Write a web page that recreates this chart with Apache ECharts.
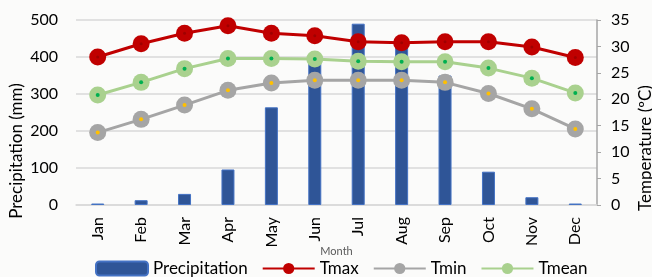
<!DOCTYPE html>
<html>
<head>
<meta charset="utf-8">
<script src="https://cdn.jsdelivr.net/npm/echarts@6/dist/echarts.min.js"></script>
<style>
  html, body { margin: 0; padding: 0; background: #fbfbfa; }
  #chart { width: 652px; height: 277px; }
</style>
</head>
<body>
<div id="chart"></div>
<script>
// months on the x axis
var months = ['Jan', 'Feb', 'Mar', 'Apr', 'May', 'Jun', 'Jul', 'Aug', 'Sep', 'Oct', 'Nov', 'Dec'];
// precipitation (mm), left axis
var precipitation = [4, 13, 30, 96, 264, 390, 490, 430, 350, 90, 21, 4];
// temperatures (ºC), right axis
var tmax = [28.0, 30.5, 32.5, 33.9, 32.5, 32.0, 30.9, 30.7, 30.9, 30.9, 29.9, 27.9];
var tmin = [13.7, 16.2, 18.9, 21.7, 23.1, 23.6, 23.6, 23.6, 23.2, 21.1, 18.2, 14.4];
var tmean = [20.8, 23.2, 25.8, 27.7, 27.7, 27.6, 27.2, 27.1, 27.1, 25.9, 24.0, 21.2];

var font = 'Lato, "Open Sans", sans-serif';

// small dot drawn in the middle of each marker
function centerDots(data, color, size) {
  return {
    type: 'line',
    yAxisIndex: 1,
    data: data,
    symbol: 'circle',
    symbolSize: size,
    showSymbol: true,
    lineStyle: { width: 0, opacity: 0 },
    itemStyle: { color: color },
    silent: true,
    z: 5
  };
}

function tempLine(name, data, color) {
  return {
    name: name,
    type: 'line',
    yAxisIndex: 1,
    data: data,
    symbol: 'circle',
    symbolSize: 17,
    lineStyle: { color: color, width: 3 },
    itemStyle: { color: color },
    z: 3
  };
}

// axis titles sit lower than the middle of the axis, as in the original
function axisTitle(text, x, y) {
  return {
    type: 'text',
    x: x, y: y,
    rotation: Math.PI / 2,
    style: {
      text: text,
      fill: '#000',
      font: '17px ' + font,
      align: 'center',
      verticalAlign: 'middle'
    }
  };
}

var chart = echarts.init(document.getElementById('chart'));
chart.setOption({
  backgroundColor: '#fbfbfa',
  animation: false,
  textStyle: { fontFamily: font },
  grid: { left: 76, right: 55, top: 20, bottom: 72, outerBoundsMode: 'none', containLabel: false },
  graphic: [
    axisTitle('Precipitation (mm)', 17, 151),
    axisTitle('Temperature (ºC)', 646, 148)
  ],
  legend: {
    data: ['Precipitation', 'Tmax', 'Tmin', 'Tmean'],
    bottom: -5,
    left: 90,
    itemWidth: 52,
    itemHeight: 14,
    itemGap: 14,
    textStyle: { fontSize: 17, color: '#000', fontFamily: font }
  },
  xAxis: {
    type: 'category',
    data: months,
    name: 'Month',
    nameLocation: 'middle',
    nameGap: 41,
    nameMoveOverlap: false,
    nameTextStyle: { fontSize: 11, color: '#595959', fontFamily: font },
    axisLine: { lineStyle: { color: '#d9d9d9', width: 1.5 } },
    axisTick: { show: false },
    axisLabel: { rotate: 90, fontSize: 16, color: '#000', margin: 12, fontFamily: font }
  },
  yAxis: [{
    type: 'value',
    min: 0, max: 500, interval: 100,
    axisLine: { show: false },
    axisTick: { show: false },
    axisLabel: { fontSize: 16, color: '#000', margin: 18, fontFamily: font },
    splitLine: { lineStyle: { color: '#d9d9d9', width: 1.5 } }
  }, {
    type: 'value',
    min: 0, max: 35, interval: 5,
    position: 'right',
    axisLine: { show: true, lineStyle: { color: '#a6a6a6', width: 1.5 } },
    axisTick: { show: true, inside: false, length: 4, lineStyle: { color: '#a6a6a6' } },
    axisLabel: { fontSize: 16, color: '#000', margin: 14, fontFamily: font },
    splitLine: { show: false }
  }],
  series: [
    {
      name: 'Precipitation',
      type: 'bar',
      data: precipitation,
      barWidth: 13,
      itemStyle: { color: '#2f5597', borderColor: '#4472c4', borderWidth: 1 },
      z: 2
    },
    tempLine('Tmax', tmax, '#c00000'),
    tempLine('Tmin', tmin, '#a5a5a5'),
    tempLine('Tmean', tmean, '#a9d18e'),
    centerDots(tmax, '#a00000', 3),
    centerDots(tmin, '#ffc000', 4),
    centerDots(tmean, '#00b050', 4)
  ]
});
</script>
</body>
</html>
